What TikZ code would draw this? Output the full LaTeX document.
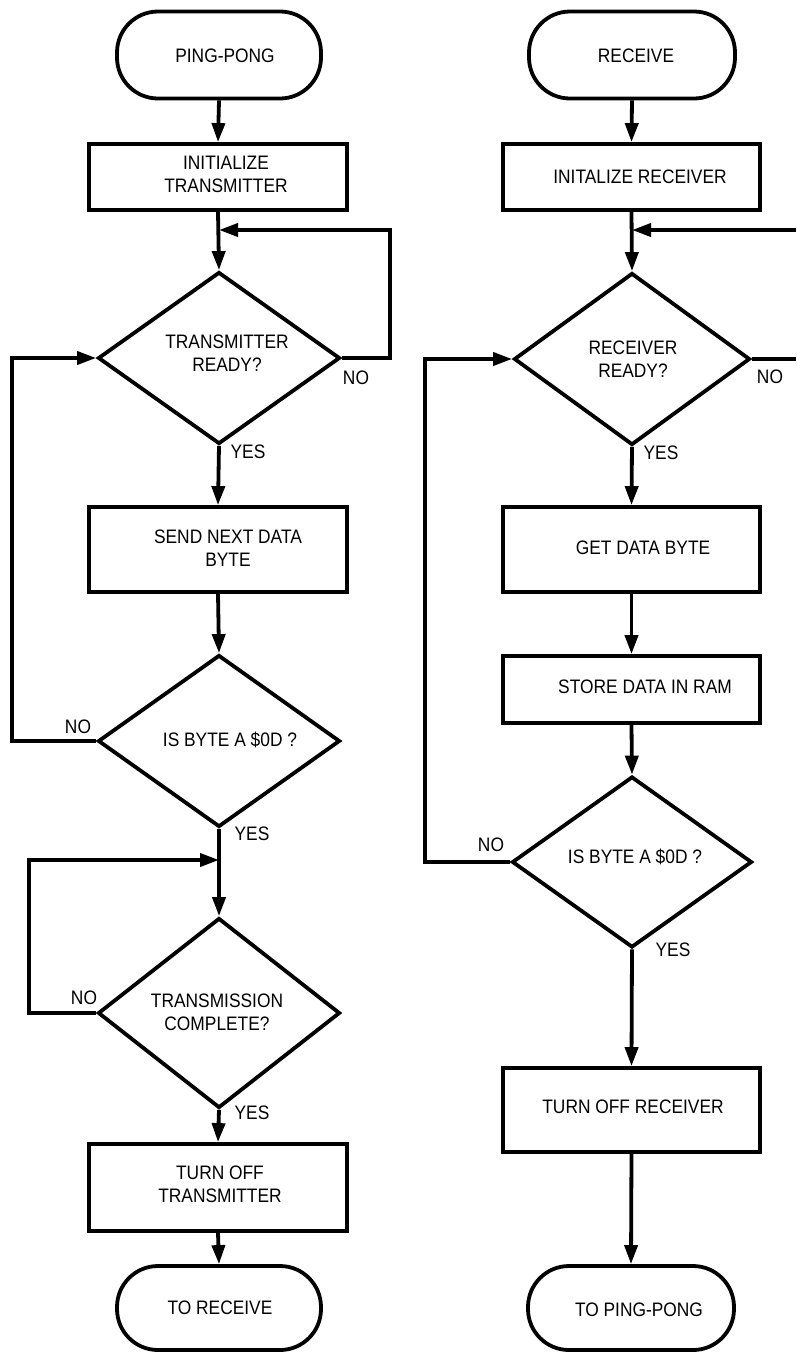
\documentclass[tikz,border=0pt]{standalone}
\usepackage{fontspec}
\setmainfont{Liberation Sans}[FakeStretch=0.89]
\usetikzlibrary{arrows.meta,shapes.geometric}
\tikzset{
  ln/.style={line width=3.8pt},
  arr/.style={ln,-{Triangle[length=19pt,width=13pt]}},
  term/.style={draw,ln,rounded corners=41pt,minimum width=#1,minimum height=84pt,inner sep=0pt},
  proc/.style={draw,ln,minimum width=258pt,inner sep=0pt},
  dec/.style={draw,ln,diamond,inner sep=0pt},
  txt/.style={font=\fontsize{19.5}{23}\selectfont,align=center,inner sep=0pt},
}
\begin{document}
\begin{tikzpicture}[x=1pt,y=-1pt]
\useasboundingbox[fill=white] (0,0) rectangle (796,1353);
% ---- left column shapes
\node[term=204pt,minimum height=87pt] (T1) at (219,55) {};
\node[proc,minimum height=66pt] (B1) at (218,177) {};
\node[dec,minimum width=242pt,minimum height=172pt] (D1) at (219,358) {};
\node[proc,minimum height=85pt] (B2) at (218,549.5) {};
\node[dec,minimum width=242pt,minimum height=172pt] (D2) at (219,741) {};
\node[dec,minimum width=242pt,minimum height=190pt] (D3) at (219,1013) {};
\node[proc,minimum height=87pt] (B7) at (218,1187.5) {};
\node[term=204pt] (T3) at (219,1308) {};
% ---- right column shapes
\node[term=206pt,minimum height=87pt] (T2) at (632,55) {};
\node[proc,minimum width=257pt,minimum height=66pt] (B3) at (631.5,177) {};
\node[dec,minimum width=236pt,minimum height=172pt] (D4) at (632,359) {};
\node[proc,minimum width=257pt,minimum height=85pt] (B4) at (631.5,549.5) {};
\node[proc,minimum width=257pt,minimum height=67pt] (B5) at (631.5,689.5) {};
\node[dec,minimum width=240pt,minimum height=171pt] (D5) at (632,862) {};
\node[proc,minimum width=257pt,minimum height=84pt] (B6) at (631.5,1110) {};
\node[term=206pt] (T4) at (631,1308) {};
% ---- texts
\node[txt] (tT1) at (225,56) {PING-PONG};
\node[txt] (tB1) at (226,174) {INITIALIZE\\TRANSMITTER};
\node[txt] (tD1) at (227,353) {TRANSMITTER\\READY?};
\node[txt] (tB2) at (228,548) {SEND NEXT DATA\\BYTE};
\node[txt] (tD2) at (230,740) {IS BYTE A \$0D ?};
\node[txt] (tD3) at (217,1012) {TRANSMISSION\\COMPLETE?};
\node[txt] (tB7) at (220,1184) {TURN OFF\\TRANSMITTER};
\node[txt] (tT3) at (220,1308) {TO RECEIVE};
\node[txt] (tT2) at (636,56) {RECEIVE};
\node[txt] (tB3) at (640,177) {INITALIZE RECEIVER};
\node[txt] (tD4) at (633,359) {RECEIVER\\READY?};
\node[txt] (tB4) at (643,548) {GET DATA BYTE};
\node[txt] (tB5) at (645,687) {STORE DATA IN RAM};
\node[txt] (tD5) at (635,857) {IS BYTE A \$0D ?};
\node[txt] (tB6) at (633,1107) {TURN OFF RECEIVER};
\node[txt] (tT4) at (639,1310) {TO PING-PONG};
% ---- branch labels
\node[txt] (n1) at (356,378) {NO};
\node[txt] (y1) at (248,452) {YES};
\node[txt] (n2) at (78,727) {NO};
\node[txt] (y2) at (252,834) {YES};
\node[txt] (n3) at (84,998) {NO};
\node[txt] (y3) at (252,1113) {YES};
\node[txt] (n4) at (770,377) {NO};
\node[txt] (y4) at (661,453) {YES};
\node[txt] (n5) at (491,845) {NO};
\node[txt] (y5) at (673,950) {YES};
% ---- junction / bend coordinates
\coordinate (J1) at (219,230);
\coordinate (r1) at (390,230);
\coordinate (l2) at (12,358);
\coordinate (J2) at (219,860);
\coordinate (l3) at (29,860);
\coordinate (J4) at (632,230);
\coordinate (e4in) at (796,230);
\coordinate (e4out) at (796,359);
\coordinate (l5) at (425,359);
% ---- left connectors
\draw[arr] (T1.south) -- (B1.north);
\draw[arr] (B1.south) -- (D1.north);
\draw[arr] (D1.east) -| (r1) -- (J1);
\draw[arr] (D1.south) -- (B2.north);
\draw[arr] (B2.south) -- (D2.north);
\draw[arr] (D2.west) -| (l2) -- (D1.west);
\draw[arr] (D2.south) -- (D3.north);
\draw[arr] (D3.west) -| (l3) -- (J2);
\draw[arr] (D3.south) -- (B7.north);
\draw[arr] (B7.south) -- (T3.north);
% ---- right connectors
\draw[arr] (T2.south) -- (B3.north);
\draw[arr] (B3.south) -- (D4.north);
\draw[arr] (e4in) -- (J4);
\draw[ln] (D4.east) -- (e4out);
\draw[arr] (D4.south) -- (B4.north);
\draw[arr] (B4.south) -- (B5.north);
\draw[arr] (B5.south) -- (D5.north);
\draw[arr] (D5.west) -| (l5) -- (D4.west);
\draw[arr] (D5.south) -- (B6.north);
\draw[arr] (B6.south) -- (T4.north);
\end{tikzpicture}
\end{document}
